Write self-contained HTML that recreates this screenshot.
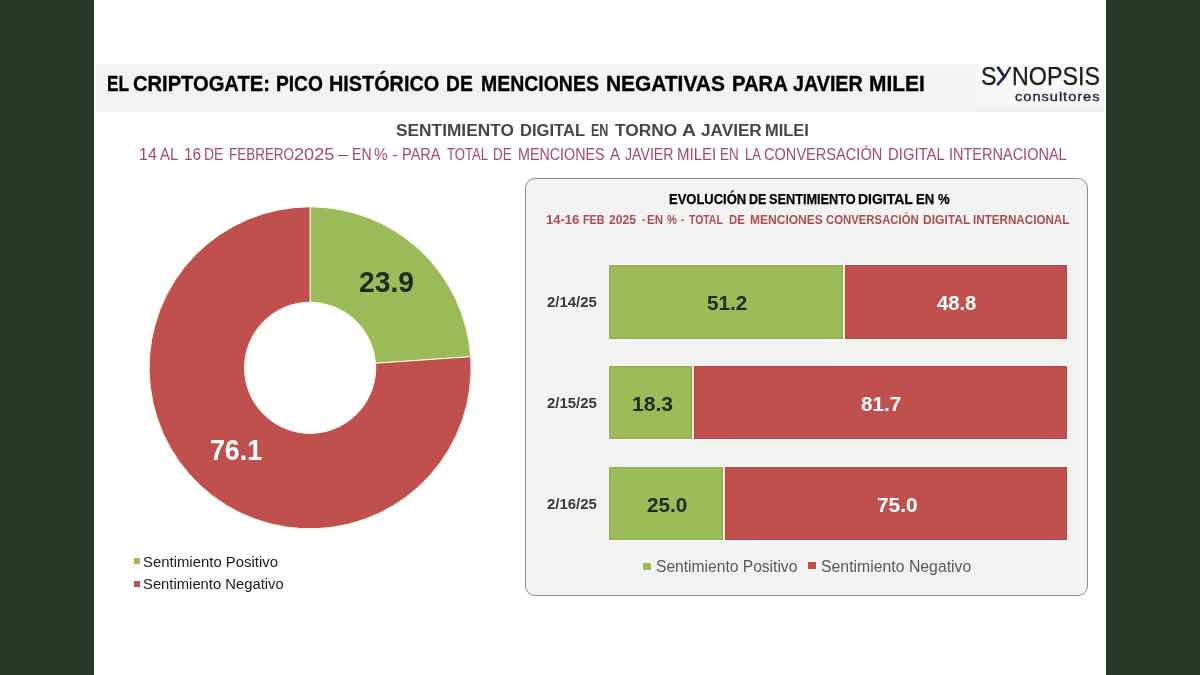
<!DOCTYPE html>
<html lang="es">
<head>
<meta charset="utf-8">
<title>El Criptogate: pico histórico de menciones negativas para Javier Milei</title>
<style>
  html, body { margin: 0; padding: 0; }
  body { width: 1200px; height: 675px; position: relative; overflow: hidden; background: #ffffff;
         font-family: "Liberation Sans", Arial, sans-serif; }
  .side { position: absolute; top: 0; width: 94px; height: 675px; background: #283827; }
  .abs { position: absolute; }
  .band { position: absolute; left: 96px; top: 64px; width: 1008px; height: 48px; background: linear-gradient(#f6f6f6 0, #f6f6f6 7px, #f2f2f2 7.5px); }
  .t { position: absolute; white-space: nowrap; transform-origin: 0 0; line-height: 1; }
  .panel { position: absolute; left: 525.3px; top: 178.2px; width: 563px; height: 418px; box-sizing: border-box;
           border: 1.7px solid #8c8c8c; border-radius: 10px; background: #f2f2f2; }
  .bar { position: absolute; left: 609px; width: 458px; height: 73.5px; background: #f6ead8; box-shadow: 0 0 0 1px rgba(255,255,255,0.75); }
  .seg { position: absolute; top: 0; height: 100%; box-sizing: border-box; }
  .g { background: #9bbb59; border: 1px solid #8ea956; }
  .r { background: #c0504d; border: 1px solid #ad4946; }
  .sq { position: absolute; }
</style>
</head>
<body>
  <div class="side" style="left:0"></div>
  <div class="side" style="left:1106px"></div>

  <div class="band"></div>
  <div class="abs" style="left:976px;top:64px;width:127px;height:41px;background:#f8f8f8"></div>


  <!-- donut -->
  <svg class="abs" style="left:0;top:0" width="1200" height="675" viewBox="0 0 1200 675">
    <path d="M310.10,206.80 A161.0,161.0 0 0 1 470.72,356.68 L375.54,363.27 A65.6,65.6 0 0 0 310.10,302.20 Z" fill="#9bbb59" stroke="#fdfbe8" stroke-width="1"/>
    <path d="M470.72,356.68 A161.0,161.0 0 1 1 310.10,206.80 L310.10,302.20 A65.6,65.6 0 1 0 375.54,363.27 Z" fill="#c0504d" stroke="#fdfbe8" stroke-width="1"/>
  </svg>

  <div class="sq" style="left:134px;top:558px;width:6px;height:6px;background:#9bbb59"></div>
  <div class="sq" style="left:134px;top:581px;width:6px;height:6px;background:#c0504d"></div>

  <!-- right panel -->
  <div class="panel"></div>

  <div class="bar" style="top:265.4px;height:73.3px">
    <div class="seg g" style="left:0;width:233.50px"></div>
    <div class="seg r" style="left:235.50px;width:222.50px"></div>
  </div>
  <div class="bar" style="top:366px;height:73.3px">
    <div class="seg g" style="left:0;width:82.81px"></div>
    <div class="seg r" style="left:84.81px;width:373.19px"></div>
  </div>
  <div class="bar" style="top:467px;height:72.5px">
    <div class="seg g" style="left:0;width:113.50px"></div>
    <div class="seg r" style="left:115.50px;width:342.50px"></div>
  </div>

  <div class="sq" style="left:643px;top:562.5px;width:8px;height:7px;background:#9bbb59"></div>
  <div class="sq" style="left:808px;top:562px;width:8px;height:7px;background:#c0504d"></div>

  <svg class="abs" style="left:990px;top:64px" width="24" height="26" viewBox="990 64 24 26"><path d="M997.4,66.9 L1004.6,76.6 L997.2,85.1" stroke="#1f2766" stroke-width="2.7" stroke-linecap="butt" stroke-linejoin="miter" fill="none"/></svg>
  <div class="t" id="title-0" style="left:106.71px;top:71.58px;font-size:22.7px;font-weight:bold;color:#000000;transform:scaleX(0.7571);-webkit-text-stroke:0.35px #000;">EL</div>
  <div class="t" id="title-1" style="left:133.11px;top:71.58px;font-size:22.7px;font-weight:bold;color:#000000;transform:scaleX(0.8874);-webkit-text-stroke:0.35px #000;">CRIPTOGATE:</div>
  <div class="t" id="title-2" style="left:275.71px;top:71.58px;font-size:22.7px;font-weight:bold;color:#000000;transform:scaleX(0.8455);-webkit-text-stroke:0.35px #000;">PICO</div>
  <div class="t" id="title-3" style="left:329.42px;top:71.58px;font-size:22.7px;font-weight:bold;color:#000000;transform:scaleX(0.8743);-webkit-text-stroke:0.35px #000;">HISTÓRICO</div>
  <div class="t" id="title-4" style="left:446.00px;top:71.58px;font-size:22.7px;font-weight:bold;color:#000000;transform:scaleX(0.8481);-webkit-text-stroke:0.35px #000;">DE</div>
  <div class="t" id="title-5" style="left:480.73px;top:71.58px;font-size:22.7px;font-weight:bold;color:#000000;transform:scaleX(0.8579);-webkit-text-stroke:0.35px #000;">MENCIONES</div>
  <div class="t" id="title-6" style="left:606.07px;top:71.58px;font-size:22.7px;font-weight:bold;color:#000000;transform:scaleX(0.9214);-webkit-text-stroke:0.35px #000;">NEGATIVAS</div>
  <div class="t" id="title-7" style="left:732.24px;top:71.58px;font-size:22.7px;font-weight:bold;color:#000000;transform:scaleX(0.8921);-webkit-text-stroke:0.35px #000;">PARA</div>
  <div class="t" id="title-8" style="left:793.28px;top:71.58px;font-size:22.7px;font-weight:bold;color:#000000;transform:scaleX(0.8687);-webkit-text-stroke:0.35px #000;">JAVIER</div>
  <div class="t" id="title-9" style="left:868.61px;top:71.58px;font-size:22.7px;font-weight:bold;color:#000000;transform:scaleX(0.9210);-webkit-text-stroke:0.35px #000;">MILEI</div>
  <div class="t" id="sub1-0" style="left:396.03px;top:122.27px;font-size:17.4px;font-weight:bold;color:#474747;transform:scaleX(0.9949);">SENTIMIENTO</div>
  <div class="t" id="sub1-1" style="left:519.83px;top:122.27px;font-size:17.4px;font-weight:bold;color:#474747;transform:scaleX(0.9521);">DIGITAL</div>
  <div class="t" id="sub1-2" style="left:590.52px;top:122.27px;font-size:17.4px;font-weight:bold;color:#474747;transform:scaleX(0.7200);">EN</div>
  <div class="t" id="sub1-3" style="left:615.10px;top:122.27px;font-size:17.4px;font-weight:bold;color:#474747;transform:scaleX(0.9971);">TORNO</div>
  <div class="t" id="sub1-4" style="left:682.17px;top:122.27px;font-size:17.4px;font-weight:bold;color:#474747;transform:scaleX(1.1149);">A</div>
  <div class="t" id="sub1-5" style="left:701.40px;top:122.27px;font-size:17.4px;font-weight:bold;color:#474747;transform:scaleX(0.9873);">JAVIER</div>
  <div class="t" id="sub1-6" style="left:765.04px;top:122.27px;font-size:17.4px;font-weight:bold;color:#474747;transform:scaleX(0.9461);">MILEI</div>
  <div class="t" id="sub2-0" style="left:138.65px;top:145.53px;font-size:16.5px;font-weight:normal;color:#a04b5f;transform:scaleX(0.9677);">14</div>
  <div class="t" id="sub2-1" style="left:160.25px;top:145.53px;font-size:16.5px;font-weight:normal;color:#a04b5f;transform:scaleX(0.8991);">AL</div>
  <div class="t" id="sub2-2" style="left:183.67px;top:145.53px;font-size:16.5px;font-weight:normal;color:#a04b5f;transform:scaleX(0.9347);">16</div>
  <div class="t" id="sub2-3" style="left:204.48px;top:145.53px;font-size:16.5px;font-weight:normal;color:#a04b5f;transform:scaleX(0.8489);">DE</div>
  <div class="t" id="sub2-4" style="left:229.22px;top:145.53px;font-size:16.5px;font-weight:normal;color:#a04b5f;transform:scaleX(0.8156);">FEBRERO</div>
  <div class="t" id="sub2-5" style="left:294.46px;top:145.53px;font-size:16.5px;font-weight:normal;color:#a04b5f;transform:scaleX(1.0980);">2025</div>
  <div class="t" id="sub2-6" style="left:337.53px;top:145.53px;font-size:16.5px;font-weight:normal;color:#a04b5f;transform:scaleX(1.1500);">–</div>
  <div class="t" id="sub2-7" style="left:351.73px;top:145.53px;font-size:16.5px;font-weight:normal;color:#a04b5f;transform:scaleX(0.8542);">EN</div>
  <div class="t" id="sub2-8" style="left:374.08px;top:145.53px;font-size:16.5px;font-weight:normal;color:#a04b5f;transform:scaleX(0.9320);">%</div>
  <div class="t" id="sub2-9" style="left:392.01px;top:145.53px;font-size:16.5px;font-weight:normal;color:#a04b5f;transform:scaleX(1.0810);">-</div>
  <div class="t" id="sub2-10" style="left:401.62px;top:145.53px;font-size:16.5px;font-weight:normal;color:#a04b5f;transform:scaleX(0.8819);">PARA</div>
  <div class="t" id="sub2-11" style="left:447.15px;top:145.53px;font-size:16.5px;font-weight:normal;color:#a04b5f;transform:scaleX(0.7965);">TOTAL</div>
  <div class="t" id="sub2-12" style="left:492.92px;top:145.53px;font-size:16.5px;font-weight:normal;color:#a04b5f;transform:scaleX(0.8092);">DE</div>
  <div class="t" id="sub2-13" style="left:517.84px;top:145.53px;font-size:16.5px;font-weight:normal;color:#a04b5f;transform:scaleX(0.8661);">MENCIONES</div>
  <div class="t" id="sub2-14" style="left:610.00px;top:145.53px;font-size:16.5px;font-weight:normal;color:#a04b5f;transform:scaleX(0.9091);">A</div>
  <div class="t" id="sub2-15" style="left:625.00px;top:145.53px;font-size:16.5px;font-weight:normal;color:#a04b5f;transform:scaleX(0.8577);">JAVIER</div>
  <div class="t" id="sub2-16" style="left:677.03px;top:145.53px;font-size:16.5px;font-weight:normal;color:#a04b5f;transform:scaleX(0.9108);">MILEI</div>
  <div class="t" id="sub2-17" style="left:720.36px;top:145.53px;font-size:16.5px;font-weight:normal;color:#a04b5f;transform:scaleX(0.8140);">EN</div>
  <div class="t" id="sub2-18" style="left:744.65px;top:145.53px;font-size:16.5px;font-weight:normal;color:#a04b5f;transform:scaleX(0.7895);">LA</div>
  <div class="t" id="sub2-19" style="left:764.09px;top:145.53px;font-size:16.5px;font-weight:normal;color:#a04b5f;transform:scaleX(0.8834);">CONVERSACIÓN</div>
  <div class="t" id="sub2-20" style="left:887.78px;top:145.53px;font-size:16.5px;font-weight:normal;color:#a04b5f;transform:scaleX(0.9016);">DIGITAL</div>
  <div class="t" id="sub2-21" style="left:949.12px;top:145.53px;font-size:16.5px;font-weight:normal;color:#a04b5f;transform:scaleX(0.8788);">INTERNACIONAL</div>
  <div class="t" id="v239" style="left:359.04px;top:266.90px;font-size:29.3px;font-weight:bold;color:#1f2a1c;transform:scaleX(0.9636);">23.9</div>
  <div class="t" id="v761" style="left:210.21px;top:435.20px;font-size:29.3px;font-weight:bold;color:#ffffff;transform:scaleX(0.9119);">76.1</div>
  <div class="t" id="dl1" style="left:143.45px;top:554.05px;font-size:15.3px;font-weight:normal;color:#1a1a1a;transform:scaleX(0.9738);">Sentimiento Positivo</div>
  <div class="t" id="dl2" style="left:143.46px;top:576.05px;font-size:15.3px;font-weight:normal;color:#1a1a1a;transform:scaleX(0.9681);">Sentimiento Negativo</div>
  <div class="t" id="ptitle-0" style="left:669.11px;top:191.73px;font-size:14.5px;font-weight:bold;color:#000000;transform:scaleX(0.8943);-webkit-text-stroke:0.25px #000;">EVOLUCIÓN</div>
  <div class="t" id="ptitle-1" style="left:749.15px;top:191.73px;font-size:14.5px;font-weight:bold;color:#000000;transform:scaleX(0.8582);-webkit-text-stroke:0.25px #000;">DE</div>
  <div class="t" id="ptitle-2" style="left:768.78px;top:191.73px;font-size:14.5px;font-weight:bold;color:#000000;transform:scaleX(0.8777);-webkit-text-stroke:0.25px #000;">SENTIMIENTO</div>
  <div class="t" id="ptitle-3" style="left:857.78px;top:191.73px;font-size:14.5px;font-weight:bold;color:#000000;transform:scaleX(0.9647);-webkit-text-stroke:0.25px #000;">DIGITAL</div>
  <div class="t" id="ptitle-4" style="left:915.84px;top:191.73px;font-size:14.5px;font-weight:bold;color:#000000;transform:scaleX(0.9022);-webkit-text-stroke:0.25px #000;">EN</div>
  <div class="t" id="ptitle-5" style="left:938.31px;top:191.73px;font-size:14.5px;font-weight:bold;color:#000000;transform:scaleX(0.9001);-webkit-text-stroke:0.25px #000;">%</div>
  <div class="t" id="psub-0" style="left:546.42px;top:214.33px;font-size:12.6px;font-weight:bold;color:#a94e50;transform:scaleX(1.0338);">14-16</div>
  <div class="t" id="psub-1" style="left:582.59px;top:214.33px;font-size:12.6px;font-weight:bold;color:#a94e50;transform:scaleX(0.8517);">FEB</div>
  <div class="t" id="psub-2" style="left:608.60px;top:214.33px;font-size:12.6px;font-weight:bold;color:#a94e50;transform:scaleX(0.9643);">2025</div>
  <div class="t" id="psub-3" style="left:641.60px;top:214.33px;font-size:12.6px;font-weight:bold;color:#a94e50;transform:scaleX(0.7500);">-</div>
  <div class="t" id="psub-4" style="left:647.25px;top:214.33px;font-size:12.6px;font-weight:bold;color:#a94e50;transform:scaleX(0.9134);">EN</div>
  <div class="t" id="psub-5" style="left:667.17px;top:214.33px;font-size:12.6px;font-weight:bold;color:#a94e50;transform:scaleX(0.8807);">%</div>
  <div class="t" id="psub-6" style="left:681.00px;top:214.33px;font-size:12.6px;font-weight:bold;color:#a94e50;transform:scaleX(0.7500);">-</div>
  <div class="t" id="psub-7" style="left:688.56px;top:214.33px;font-size:12.6px;font-weight:bold;color:#a94e50;transform:scaleX(0.8271);">TOTAL</div>
  <div class="t" id="psub-8" style="left:729.12px;top:214.33px;font-size:12.6px;font-weight:bold;color:#a94e50;transform:scaleX(0.9037);">DE</div>
  <div class="t" id="psub-9" style="left:749.65px;top:214.33px;font-size:12.6px;font-weight:bold;color:#a94e50;transform:scaleX(0.9549);">MENCIONES</div>
  <div class="t" id="psub-10" style="left:826.08px;top:214.33px;font-size:12.6px;font-weight:bold;color:#a94e50;transform:scaleX(0.9013);">CONVERSACIÓN</div>
  <div class="t" id="psub-11" style="left:922.76px;top:214.33px;font-size:12.6px;font-weight:bold;color:#a94e50;transform:scaleX(0.9590);">DIGITAL</div>
  <div class="t" id="psub-12" style="left:973.46px;top:214.33px;font-size:12.6px;font-weight:bold;color:#a94e50;transform:scaleX(0.9244);">INTERNACIONAL</div>
  <div class="t" id="d1" style="left:546.93px;top:294.08px;font-size:15.5px;font-weight:bold;color:#3a3a3a;transform:scaleX(0.9652);">2/14/25</div>
  <div class="t" id="d2" style="left:546.93px;top:395.08px;font-size:15.5px;font-weight:bold;color:#3a3a3a;transform:scaleX(0.9652);">2/15/25</div>
  <div class="t" id="d3" style="left:546.93px;top:495.88px;font-size:15.5px;font-weight:bold;color:#3a3a3a;transform:scaleX(0.9652);">2/16/25</div>
  <div class="t" id="b1g" style="left:706.66px;top:293.37px;font-size:20px;font-weight:bold;color:#1f2a18;transform:scaleX(1.0334);">51.2</div>
  <div class="t" id="b1r" style="left:936.69px;top:293.37px;font-size:20px;font-weight:bold;color:#ffffff;transform:scaleX(1.0113);">48.8</div>
  <div class="t" id="b2g" style="left:631.56px;top:394.27px;font-size:20px;font-weight:bold;color:#1f2a18;transform:scaleX(1.0541);">18.3</div>
  <div class="t" id="b2r" style="left:861.09px;top:394.27px;font-size:20px;font-weight:bold;color:#ffffff;transform:scaleX(1.0327);">81.7</div>
  <div class="t" id="b3g" style="left:646.92px;top:494.77px;font-size:20px;font-weight:bold;color:#1f2a18;transform:scaleX(1.0384);">25.0</div>
  <div class="t" id="b3r" style="left:877.04px;top:494.77px;font-size:20px;font-weight:bold;color:#ffffff;transform:scaleX(1.0440);">75.0</div>
  <div class="t" id="pl1" style="left:656.00px;top:559.39px;font-size:15.6px;font-weight:normal;color:#595959;transform:scaleX(1.0005);">Sentimiento Positivo</div>
  <div class="t" id="pl2" style="left:821.48px;top:559.39px;font-size:15.6px;font-weight:normal;color:#595959;transform:scaleX(1.0140);">Sentimiento Negativo</div>
  <div class="t" id="logo1" style="left:980.81px;top:62.72px;font-size:26.2px;font-weight:normal;color:#1c1c1c;transform:scaleX(0.8879);-webkit-text-stroke:0.25px #1c1c1c;">S<span style="background-image:linear-gradient(90deg,#1f2766 50%,#1c1c1c 50%);background-size:100% 54%;background-repeat:no-repeat;background-position:0 0;-webkit-background-clip:text;background-clip:text;color:transparent;-webkit-text-stroke:0">Y</span>NOPSIS</div>
  <div class="t" id="logo2" style="left:1015.07px;top:89.54px;font-size:13.3px;font-weight:normal;color:#252a45;transform:scaleX(1.0976);letter-spacing:0.9px;-webkit-text-stroke:0.4px #252a45;">consultores</div>
</body>
</html>
